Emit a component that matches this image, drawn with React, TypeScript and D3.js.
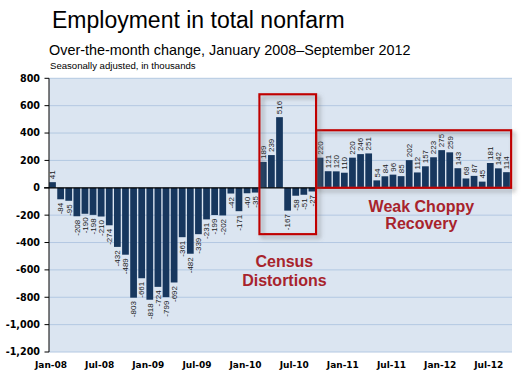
import React from "react";
import * as d3 from "d3";

const months: string[] = [
  "Jan-08","Feb-08","Mar-08","Apr-08","May-08","Jun-08","Jul-08","Aug-08","Sep-08","Oct-08","Nov-08","Dec-08",
  "Jan-09","Feb-09","Mar-09","Apr-09","May-09","Jun-09","Jul-09","Aug-09","Sep-09","Oct-09","Nov-09","Dec-09",
  "Jan-10","Feb-10","Mar-10","Apr-10","May-10","Jun-10","Jul-10","Aug-10","Sep-10","Oct-10","Nov-10","Dec-10",
  "Jan-11","Feb-11","Mar-11","Apr-11","May-11","Jun-11","Jul-11","Aug-11","Sep-11","Oct-11","Nov-11","Dec-11",
  "Jan-12","Feb-12","Mar-12","Apr-12","May-12","Jun-12","Jul-12","Aug-12","Sep-12",
];

const values: number[] = [
  41, -84, -95, -208, -190, -198, -210, -274, -432, -489, -803, -661,
  -818, -724, -799, -692, -361, -482, -339, -231, -199, -202, -42, -171,
  -40, -35, 189, 239, 516, -167, -58, -51, -27, 220, 121, 120,
  110, 220, 246, 251, 54, 84, 96, 85, 202, 112, 157, 223,
  275, 259, 143, 68, 87, 45, 181, 142, 114,
];

const xTickLabels: string[] = ["Jan-08","Jul-08","Jan-09","Jul-09","Jan-10","Jul-10","Jan-11","Jul-11","Jan-12","Jul-12"];
const yTicks: number[] = [-1200, -1000, -800, -600, -400, -200, 0, 200, 400, 600, 800];
const yTickLabels: string[] = ["-1,200", "-1,000", "-800", "-600", "-400", "-200", "0", "200", "400", "600", "800"];

const title = "Employment in total nonfarm";
const subtitle = "Over-the-month change, January 2008\u2013September 2012";
const note = "Seasonally adjusted, in thousands";

const censusBox = { from: "Mar-10", to: "Sep-10", top: 683, bottom: -339 };
const recoveryBox = { from: "Oct-10", to: "Sep-12", top: 420, bottom: 0 };
const censusLines: string[] = ["Census", "Distortions"];
const recoveryLines: string[] = ["Weak Choppy", "Recovery"];

const W = 525;
const H = 379;
const left = 48.5;
const right = 510.5;
const top = 78.3;
const bottom = 352;

export default function App() {
  const idx = d3.range(months.length);
  const x = d3.scaleBand<number>().domain(idx).range([left, right]).paddingInner(0.17).paddingOuter(0.08);
  const y = d3.scaleLinear().domain([-1200, 800]).range([bottom, top]);
  const bw = x.bandwidth();
  const step = x.step();
  const cx = (i: number) => (x(i) as number) + bw / 2;
  const pos = (fi: number) => left + x.paddingOuter() * step + fi * step + bw / 2;
  const iOf = (m: string) => months.indexOf(m);

  const boxRect = (b: { from: string; to: string; top: number; bottom: number }, extraR: number) => {
    const x0 = (x(iOf(b.from)) as number) - 0.5;
    const x1 = (x(iOf(b.to)) as number) + bw + extraR;
    return { x: x0, y: y(b.top), width: x1 - x0, height: y(b.bottom) - y(b.top) };
  };
  const cb = boxRect(censusBox, 0.8);
  const rb = boxRect(recoveryBox, 1.3);

  const red = "#c00000";
  const annRed = "#a8232c";

  return (
    <svg width={W} height={H} style={{ position: "absolute", left: 0, top: 0, background: "#fff" }}>
      <defs>
        <filter id="shadow" x="-20%" y="-20%" width="140%" height="140%">
          <feDropShadow dx="3" dy="3" stdDeviation="2" floodColor="#6b6b6b" floodOpacity="0.55" />
        </filter>
      </defs>
      <text x={52} y={28} fontFamily="Liberation Sans, Arial, sans-serif" fontSize={23} fill="#000">{title}</text>
      <text x={49} y={55} fontFamily="Liberation Sans, Arial, sans-serif" fontSize={14.4} fill="#000">{subtitle}</text>
      <text x={50} y={68.5} fontFamily="Liberation Sans, Arial, sans-serif" fontSize={9.6} fill="#000">{note}</text>

      <rect x={left + 0.5} y={top} width={right + 1 - left} height={bottom - top} fill="#dbe5f1" />
      {yTicks.map((t) => (
        t !== 0 ? <line key={"g" + t} x1={left + 0.5} x2={right + 1.5} y1={y(t)} y2={y(t)} stroke="#b3c8e2" strokeWidth={1} /> : null
      ))}

      {values.map((v, i) => (
        <rect key={"b" + i} x={x(i)} y={y(Math.max(v, 0))} width={bw} height={Math.abs(y(v) - y(0))} fill="#17375e" />
      ))}

      <line x1={44} x2={right + 1.5} y1={y(0)} y2={y(0)} stroke="#000" strokeWidth={1.3} />
      <line x1={left + 0.5} x2={left + 0.5} y1={top} y2={bottom} stroke="#000" strokeWidth={1} />
      {yTicks.map((t, k) => (
        <g key={"t" + t}>
          <line x1={44.5} x2={left + 0.5} y1={y(t)} y2={y(t)} stroke="#000" strokeWidth={1} />
          <text x={40} y={y(t)} dy="0.35em" textAnchor="end" fontFamily="DejaVu Sans, Verdana, sans-serif" fontWeight="bold" fontSize={9.6} fill="#000">{yTickLabels[k]}</text>
        </g>
      ))}
      {xTickLabels.map((l) => (
        <text key={"x" + l} x={cx(iOf(l)) - 1.5} y={368} textAnchor="middle" fontFamily="DejaVu Sans, Verdana, sans-serif" fontWeight="bold" fontSize={9} fill="#000">{l}</text>
      ))}

      {values.map((v, i) => {
        const yy = v >= 0 ? y(v) - 3 : y(v) + 3.5;
        return (
          <text key={"l" + i} transform={`translate(${cx(i)},${yy}) rotate(-90)`} dy="0.35em" textAnchor={v >= 0 ? "start" : "end"}
            fontFamily="Liberation Sans, Arial, sans-serif" fontSize={8} fill="#1a1a1a">{v}</text>
        );
      })}

      <rect {...rb} fill="none" stroke={red} strokeWidth={2.2} filter="url(#shadow)" />
      <rect {...cb} fill="none" stroke={red} strokeWidth={2.2} filter="url(#shadow)" />

      {censusLines.map((l, k) => (
        <text key={"c" + k} x={pos(28.6)} y={y(-581 - k * 137)} textAnchor="middle" fontFamily="Liberation Sans, Arial, sans-serif" fontWeight="bold" fontSize={16} fill={annRed}>{l}</text>
      ))}
      {recoveryLines.map((l, k) => (
        <text key={"r" + k} x={pos(45.5)} y={y(-175 - k * 126)} textAnchor="middle" fontFamily="Liberation Sans, Arial, sans-serif" fontWeight="bold" fontSize={16} fill={annRed}>{l}</text>
      ))}
    </svg>
  );
}
